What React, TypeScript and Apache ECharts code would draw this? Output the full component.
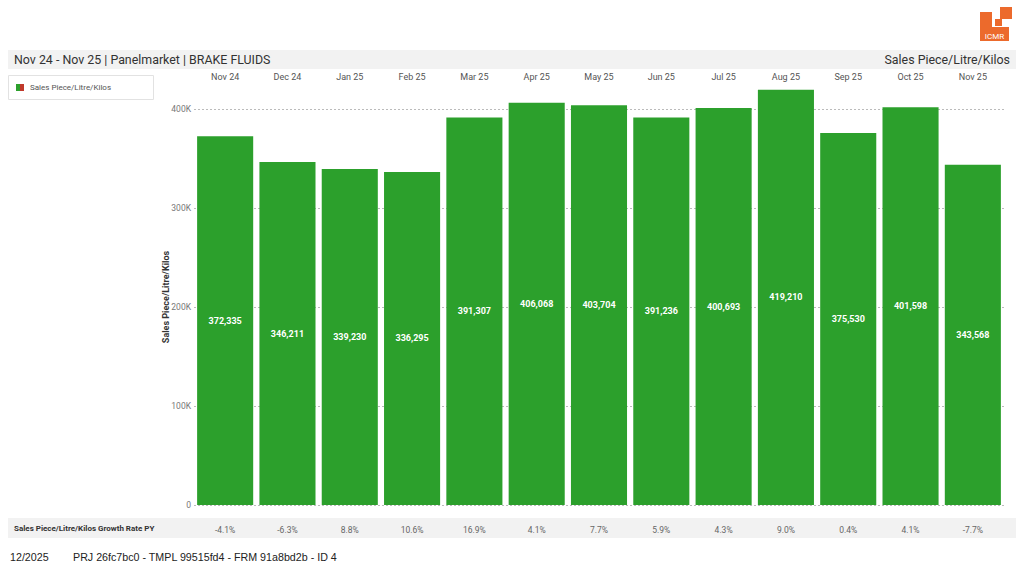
import React, { useEffect, useRef } from "react";
import * as echarts from "echarts";

const categories = ["Nov 24", "Dec 24", "Jan 25", "Feb 25", "Mar 25", "Apr 25", "May 25", "Jun 25", "Jul 25", "Aug 25", "Sep 25", "Oct 25", "Nov 25"];
const salesValues = [372335, 346211, 339230, 336295, 391307, 406068, 403704, 391236, 400693, 419210, 375530, 401598, 343568];
const growthRates = ["-4.1%", "-6.3%", "8.8%", "10.6%", "16.9%", "4.1%", "7.7%", "5.9%", "4.3%", "9.0%", "0.4%", "4.1%", "-7.7%"];
const yTicks = [0, 100000, 200000, 300000, 400000];
const yTickLabels = ["0", "100K", "200K", "300K", "400K"];

const seriesName = "Sales Piece/Litre/Kilos";
const titleText = "Nov 24 - Nov 25 | Panelmarket | BRAKE FLUIDS";
const growthLabel = "Sales Piece/Litre/Kilos Growth Rate PY";
const footerDate = "12/2025";
const footerId = "PRJ 26fc7bc0 - TMPL 99515fd4 - FRM 91a8bd2b - ID 4";

const GREEN = "#2ca02c";
const ORANGE = "#ec6a2c";
const FONT = "Roboto, 'Liberation Sans', sans-serif";
const FOOT_FONT = "'Liberation Sans', Arial, sans-serif";

export default function App() {
  const ref = useRef<HTMLDivElement>(null);
  useEffect(() => {
    if (!ref.current) return;
    const chart = echarts.init(ref.current, null, { renderer: "svg" });
    const fmt = (v: number) => {
      const i = yTicks.indexOf(v);
      return i >= 0 ? yTickLabels[i] : "";
    };
    chart.setOption({
      animation: false,
      textStyle: { fontFamily: FONT },
      grid: { left: 194, right: 20, top: 89, bottom: 69, containLabel: false },
      xAxis: [
        {
          type: "category",
          data: categories,
          position: "top",
          axisLine: { show: false },
          axisTick: { show: false },
          axisLabel: { color: "#555", fontSize: 9, margin: 8, fontFamily: FONT },
        },
        {
          type: "category",
          data: categories,
          position: "bottom",
          axisLine: { show: false },
          axisTick: { show: false },
          axisLabel: {
            color: "#666",
            fontSize: 8.5,
            margin: 20,
            fontFamily: FONT,
            formatter: (_v: string, idx: number) => growthRates[idx],
          },
        },
      ],
      yAxis: {
        type: "value",
        min: 0,
        max: 420000,
        interval: 100000,
        name: seriesName,
        nameLocation: "middle",
        nameGap: 24,
        nameMoveOverlap: false,
        nameTextStyle: { color: "#333", fontSize: 9, fontWeight: "bold", fontFamily: FONT },
        axisLine: { show: false },
        axisTick: { show: false },
        splitLine: { show: true, showMaxLine: false, lineStyle: { type: [2, 2], color: "#bbb", width: 1 } },
        axisLabel: { color: "#777", fontSize: 8.5, margin: 3, showMaxLabel: false, formatter: fmt },
      },
      series: [
        {
          name: seriesName,
          type: "bar",
          data: salesValues,
          barCategoryGap: "10%",
          itemStyle: { color: GREEN },
          label: {
            show: true,
            position: "inside",
            color: "#fff",
            fontSize: 9,
            fontWeight: "bold",
            fontFamily: FONT,
            formatter: (p: any) => Number(p.value).toLocaleString("en-US"),
          },
        },
      ],
      graphic: [
        // title bar
        { type: "rect", shape: { x: 8, y: 50, width: 1008, height: 19 }, style: { fill: "#f2f2f2" }, silent: true, z: -1 },
        { type: "text", x: 14, y: 59.5, style: { text: titleText, fill: "#333", font: `12.4px ${FONT}`, textVerticalAlign: "middle" } },
        { type: "text", x: 1010, y: 59.5, style: { text: seriesName, fill: "#333", font: `12.4px ${FONT}`, textAlign: "right", textVerticalAlign: "middle" } },
        // legend box
        { type: "rect", shape: { x: 8.5, y: 75.5, width: 145, height: 24 }, style: { fill: "#fff", stroke: "#e2e2e2", lineWidth: 1 } },
        { type: "rect", shape: { x: 16, y: 84, width: 4, height: 7 }, style: { fill: GREEN } },
        { type: "rect", shape: { x: 20, y: 84, width: 4, height: 7 }, style: { fill: "#c0392b" } },
        { type: "text", x: 30, y: 87.5, style: { text: seriesName, fill: "#555", font: `8px ${FONT}`, textVerticalAlign: "middle" } },
        // growth rate row
        { type: "rect", shape: { x: 8, y: 518, width: 1008, height: 20 }, style: { fill: "#f2f2f2" }, silent: true, z: -1 },
        { type: "text", x: 14, y: 528, style: { text: growthLabel, fill: "#333", font: `bold 8px ${FONT}`, textVerticalAlign: "middle" } },
        // footer
        { type: "text", x: 10, y: 557, style: { text: footerDate, fill: "#222", font: `10.7px ${FOOT_FONT}`, textVerticalAlign: "middle" } },
        { type: "text", x: 73, y: 557, style: { text: footerId, fill: "#222", font: `10.7px ${FOOT_FONT}`, textVerticalAlign: "middle" } },
        // logo
        { type: "rect", shape: { x: 980, y: 12, width: 29, height: 29 }, style: { fill: ORANGE } },
        { type: "rect", shape: { x: 992, y: 5, width: 24, height: 22 }, style: { fill: "#fff" } },
        { type: "rect", shape: { x: 995, y: 19, width: 7, height: 7 }, style: { fill: ORANGE } },
        { type: "rect", shape: { x: 1000, y: 7, width: 12, height: 12 }, style: { fill: ORANGE } },
        { type: "text", x: 994.5, y: 36, style: { text: "ICMR", fill: "#fff", font: `8px ${FONT}`, textAlign: "center", textVerticalAlign: "middle" } },
      ],
    });
    return () => chart.dispose();
  }, []);
  return <div ref={ref} style={{ position: "absolute", left: 0, top: 0, width: 1024, height: 574, background: "#fff" }} />;
}
